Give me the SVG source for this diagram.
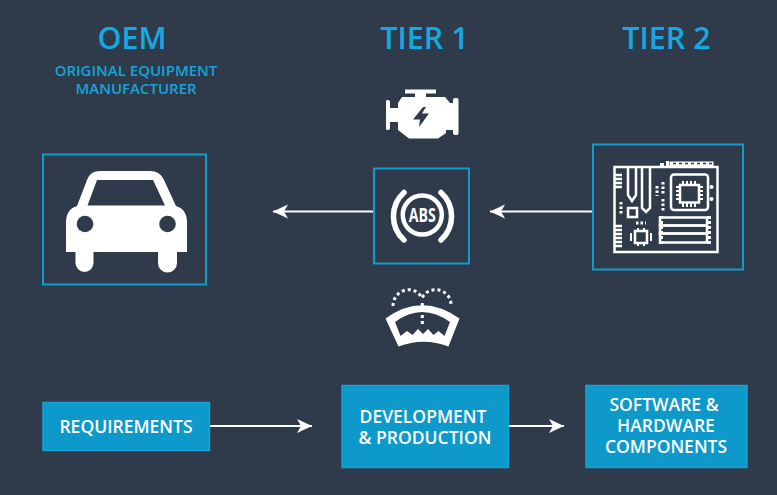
<svg xmlns="http://www.w3.org/2000/svg" width="777" height="495" viewBox="0 0 777 495">
<defs>
<marker id="arrow" markerUnits="userSpaceOnUse" markerWidth="18" markerHeight="18" refX="16" refY="9" orient="auto"><path d="M1 2 L16 9 L1 16 L5 9 Z" fill="#fff"/></marker>
</defs>
<style>
text{font-family:"Open Sans","Noto Sans",sans-serif;text-anchor:middle}
.title{font-size:30.500px;font-weight:600;fill:#14a9e2}
.sub{font-size:15px;font-weight:600;fill:#14a5dc}
.frame{fill:none;stroke:#129cce;stroke-width:2}
.box{fill:#0d99c9;stroke:#14a3d6;stroke-width:1.500}
.lab{font-size:17.500px;font-weight:600;fill:#fff}
.conn{fill:none;stroke:#fff;stroke-width:2;marker-end:url(#arrow)}
.w{fill:#fff}
.d{fill:#2f3b4a}
.ol{fill:none;stroke:#fff;stroke-width:2.500}
.th{fill:none;stroke:#fff;stroke-width:2}
.dots{fill:none;stroke:#fff;stroke-width:3;stroke-dasharray:3 3}
</style>
<rect width="777" height="495" fill="#2f3b4a"/>
<g id="connectors">
<path class="conn" d="M373 211.500H273"/>
<path class="conn" d="M592 211.500H490"/>
<path class="conn" d="M210 426H312"/>
<path class="conn" d="M509 426H564"/>
</g>
<g id="oem">
<text class="title" x="132" y="49">OEM</text>
<text class="sub"><tspan x="136" y="76">ORIGINAL EQUIPMENT</tspan><tspan x="136" y="94">MANUFACTURER</tspan></text>
<rect class="frame" x="43" y="154.500" width="163" height="130"/>
<path class="w" d="M66 252V223Q66 209 77 206L87 180Q90 171 100 171H150Q160 171 164 180L176 206Q187 209 187 223V252H177V263A9.500 9.500 0 0 1 158 263V252H93.500V263A9 9 0 0 1 75.500 263V252Z"/>
<path class="d" d="M87.500 205.500L97 180H153L165 205.500Z"/>
<circle class="d" cx="85" cy="224" r="8.300"/>
<circle class="d" cx="167.500" cy="224" r="8.300"/>
</g>
<g id="tier1">
<text class="title" x="424.500" y="49">TIER 1</text>
<rect class="frame" x="374" y="168.500" width="95" height="95"/>
<path class="w" d="M405 89.500H436V93.500H426V97H445L450 103H453V100Q453 98 455 98H457Q458.500 98 458.500 100V133Q458.500 135 457 135H455Q453 135 453 133V130H446V133L438 138.500H409L398 130V122H390V128Q390 130 388 130H387Q386 130 386 128V102Q386 100 387 100H388Q390 100 390 102V108H398V103L402 97H415V93.500H405Z"/>
<path class="d" d="M423 107L413 119.500H420L419 127L429 113.500H422L426 107Z"/>
<circle cx="422.300" cy="215" r="19.500" fill="none" stroke="#fff" stroke-width="4.500"/>
<path d="M404 192.500A32 32 0 0 0 404 240M441 192.500A32 32 0 0 1 441 240" fill="none" stroke="#fff" stroke-width="5.500" stroke-linecap="round"/>
<text x="422.300" y="222" font-size="20" font-weight="700" fill="#fff" textLength="27" lengthAdjust="spacingAndGlyphs">ABS</text>
<path class="w" d="M385.500 318.500Q422 292 459.500 318.500L448.500 346.500Q424 337 398.500 346.500Z"/>
<path class="d" d="M395 322Q422 302 450 322L444.500 336L438.500 331L433.500 335L428 329L423 334L418 329L412.500 335L407 331L400.500 336Z"/>
<path class="dots" d="M393 306C393 290 414 283 422 298C430 283 452 290 451 306"/>
<path d="M422.300 303V327" fill="none" stroke="#fff" stroke-width="3" stroke-dasharray="3 3"/>
</g>
<g id="tier2">
<text class="title" x="666.500" y="49">TIER 2</text>
<rect class="frame" x="593" y="144.500" width="150" height="125"/>
<rect class="ol" x="614.500" y="167" width="103" height="85"/>
<path class="w" d="M660 163H664V167H660ZM666 161H669V167H666Z"/>
<rect class="w" x="669.500" y="161.500" width="44" height="5.500"/>
<path d="M673 163.500H712" stroke="#2f3b4a" stroke-width="1.500" stroke-dasharray="3 3" fill="none"/>
<rect class="ol" x="671" y="174.500" width="37" height="35.500" rx="3"/>
<rect class="ol" x="680" y="185" width="19" height="17.500"/>
<path class="th" d="M676 187H680M676 191H680M676 195H680M676 199H680M699 187H703M699 191H703M699 195H703M699 199H703M683 181V185M687 181V185M691 181V185M695 181V185M683 202V207M687 202V207M691 202V207M695 202V207"/>
<path class="ol" d="M628 168V195L632 201L636 195V168M642 168V208L646 212L650 208V168"/>
<rect class="ol" x="628" y="208" width="9" height="9"/>
<rect class="ol" x="635" y="231" width="12" height="12"/>
<path class="th" d="M631 233V241M651 233V241M638 228V231M644 228V231M638 243V246M644 243V246"/>
<rect class="ol" x="660" y="217.500" width="47" height="8"/>
<rect class="ol" x="660" y="225.500" width="47" height="8"/>
<rect class="ol" x="660" y="233.500" width="47" height="9"/>
<path d="M661 216V245M709 216V245" stroke="#fff" stroke-width="4" stroke-dasharray="3 2" fill="none"/>
<path d="M614 175H622M614 179H622M614 183H622M614 187H622M614 226H622M614 230H622M614 234H622M614 238H622M614 242H622M614 246H622" stroke="#fff" stroke-width="2.500" fill="none"/>
<path d="M663 182V195M663 199V212M657 186V196" stroke="#fff" stroke-width="3" stroke-dasharray="2.500 2" fill="none"/>
<path d="M621 202V214M636 223H646" stroke="#fff" stroke-width="3" stroke-dasharray="2.500 2" fill="none"/>
<circle class="w" cx="711.500" cy="187" r="2"/>
<circle class="w" cx="711.500" cy="199" r="2"/>
</g>
<g id="requirements">
<rect class="box" x="43" y="402.500" width="166.500" height="48"/>
<text class="lab" x="126" y="433">REQUIREMENTS</text>
</g>
<g id="development">
<rect class="box" x="342" y="385.500" width="166.500" height="82"/>
<text class="lab"><tspan x="423" y="423">DEVELOPMENT</tspan><tspan x="425" y="444">&amp; PRODUCTION</tspan></text>
</g>
<g id="software">
<rect class="box" x="586" y="385.500" width="161" height="82"/>
<text class="lab"><tspan x="664" y="411">SOFTWARE &amp;</tspan><tspan x="666" y="432">HARDWARE</tspan><tspan x="666" y="453">COMPONENTS</tspan></text>
</g>
</svg>
